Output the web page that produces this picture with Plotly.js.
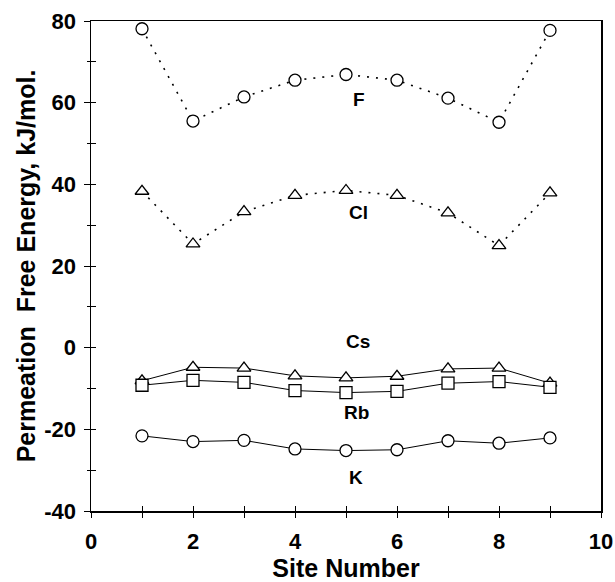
<!DOCTYPE html>
<html>
<head>
<meta charset="utf-8">
<script src="https://cdn.plot.ly/plotly-3.0.1.min.js"></script>
<style>html,body{margin:0;padding:0;background:#fff;}#chart{width:615px;height:582px;}</style>
</head>
<body>
<div id="chart"></div>
<script>
const sites = [1, 2, 3, 4, 5, 6, 7, 8, 9];
const fValues  = [78.1, 55.5, 61.4, 65.5, 66.9, 65.5, 61.1, 55.2, 77.7];
const clValues = [38.3, 25.4, 33.3, 37.3, 38.5, 37.3, 33.0, 25.0, 37.9];
const csValues = [-8.1, -4.8, -5.0, -6.9, -7.4, -7.0, -5.2, -5.0, -8.7];
const rbValues = [-9.2, -8.0, -8.5, -10.5, -11.0, -10.7, -8.7, -8.3, -9.7];
const kValues  = [-21.6, -23.0, -22.7, -24.8, -25.2, -25.0, -22.8, -23.4, -22.1];
const seriesLabels = ["F", "Cl", "Cs", "Rb", "K"];
const labelX = [5.25, 5.25, 5.24, 5.2, 5.2];
const labelY = [60.8, 33.1, 1.5, -15.9, -31.8];
const xTickVals = [0, 2, 4, 6, 8, 10];
const xTickText = ["0", "2", "4", "6", "8", "10"];
const yTickVals = [-40, -20, 0, 20, 40, 60, 80];
const yTickText = ["-40", "-20", "0", "20", "40", "60", "80"];

const font = "Liberation Sans, Arial, Helvetica, sans-serif";

function series(y, symbol, dotted) {
  return {
    x: sites, y: y, type: "scatter", mode: "lines+markers",
    line: {color: "#000", width: dotted ? 1.6 : 1, dash: dotted ? "2px,7px" : "solid"},
    marker: {symbol: symbol, size: 12, color: "#fff", line: {color: "#000", width: 1.3}},
    showlegend: false, hoverinfo: "skip"
  };
}

const data = [
  series(fValues, "circle", true),
  series(clValues, "triangle-up", true),
  series(csValues, "triangle-up", false),
  series(rbValues, "square", false),
  series(kValues, "circle", false),
  {x: [0], y: [0], xaxis: "x2", yaxis: "y2", type: "scatter", mode: "markers",
   marker: {opacity: 0}, showlegend: false, hoverinfo: "skip"}
];

const annotations = seriesLabels.map((t, i) => ({
  x: labelX[i], y: labelY[i], xref: "x", yref: "y", text: t, showarrow: false,
  font: {family: font, size: 19, color: "#000", weight: "bold"}
}));

const layout = {
  width: 615, height: 582,
  margin: {l: 91, r: 14, t: 21, b: 71},
  paper_bgcolor: "#fff", plot_bgcolor: "#fff",
  showlegend: false,
  xaxis: {
    range: [0, 10], tickmode: "array", tickvals: xTickVals, ticktext: xTickText,
    showgrid: false, zeroline: false,
    showline: true, linecolor: "#000", linewidth: 1.5, mirror: true,
    ticks: "outside", ticklen: 5, tickwidth: 1, tickcolor: "#000",
    minor: {dtick: 1, tick0: 0, ticks: "outside", ticklen: 5, tickwidth: 1, tickcolor: "#000", showgrid: false},
    tickfont: {family: font, size: 22, color: "#000", weight: "bold"},
    ticklabelstandoff: 5, ticklabeloverflow: "allow",
    title: {text: "Site Number", font: {family: font, size: 25, color: "#000", weight: "bold"}, standoff: 10}
  },
  xaxis2: {
    range: [0, 10], overlaying: "x", anchor: "y", side: "bottom",
    showgrid: false, zeroline: false, showline: false, showticklabels: false,
    ticks: "inside", dtick: 1, tick0: 0, ticklen: 5, tickwidth: 1, tickcolor: "#000"
  },
  yaxis: {
    range: [-40, 80], tickmode: "array", tickvals: yTickVals, ticktext: yTickText,
    showgrid: false, zeroline: false,
    showline: true, linecolor: "#000", linewidth: 1.5, mirror: true,
    ticks: "outside", ticklen: 6, tickwidth: 1, tickcolor: "#000",
    minor: {dtick: 10, tick0: 0, ticks: "outside", ticklen: 3, tickwidth: 1, tickcolor: "#000", showgrid: false},
    tickfont: {family: font, size: 22, color: "#000", weight: "bold"},
    ticklabelstandoff: 3,
    title: {text: "Permeation  Free Energy, kJ/mol.", font: {family: font, size: 25, color: "#000", weight: "bold"}, standoff: 1}
  },
  yaxis2: {
    range: [-40, 80], overlaying: "y", anchor: "x", side: "left",
    showgrid: false, zeroline: false, showline: false, showticklabels: false,
    ticks: "inside", dtick: 10, tick0: 0, ticklen: 5, tickwidth: 1, tickcolor: "#000"
  },
  annotations: annotations
};

Plotly.newPlot("chart", data, layout, {staticPlot: true, displayModeBar: false});
</script>
</body>
</html>
